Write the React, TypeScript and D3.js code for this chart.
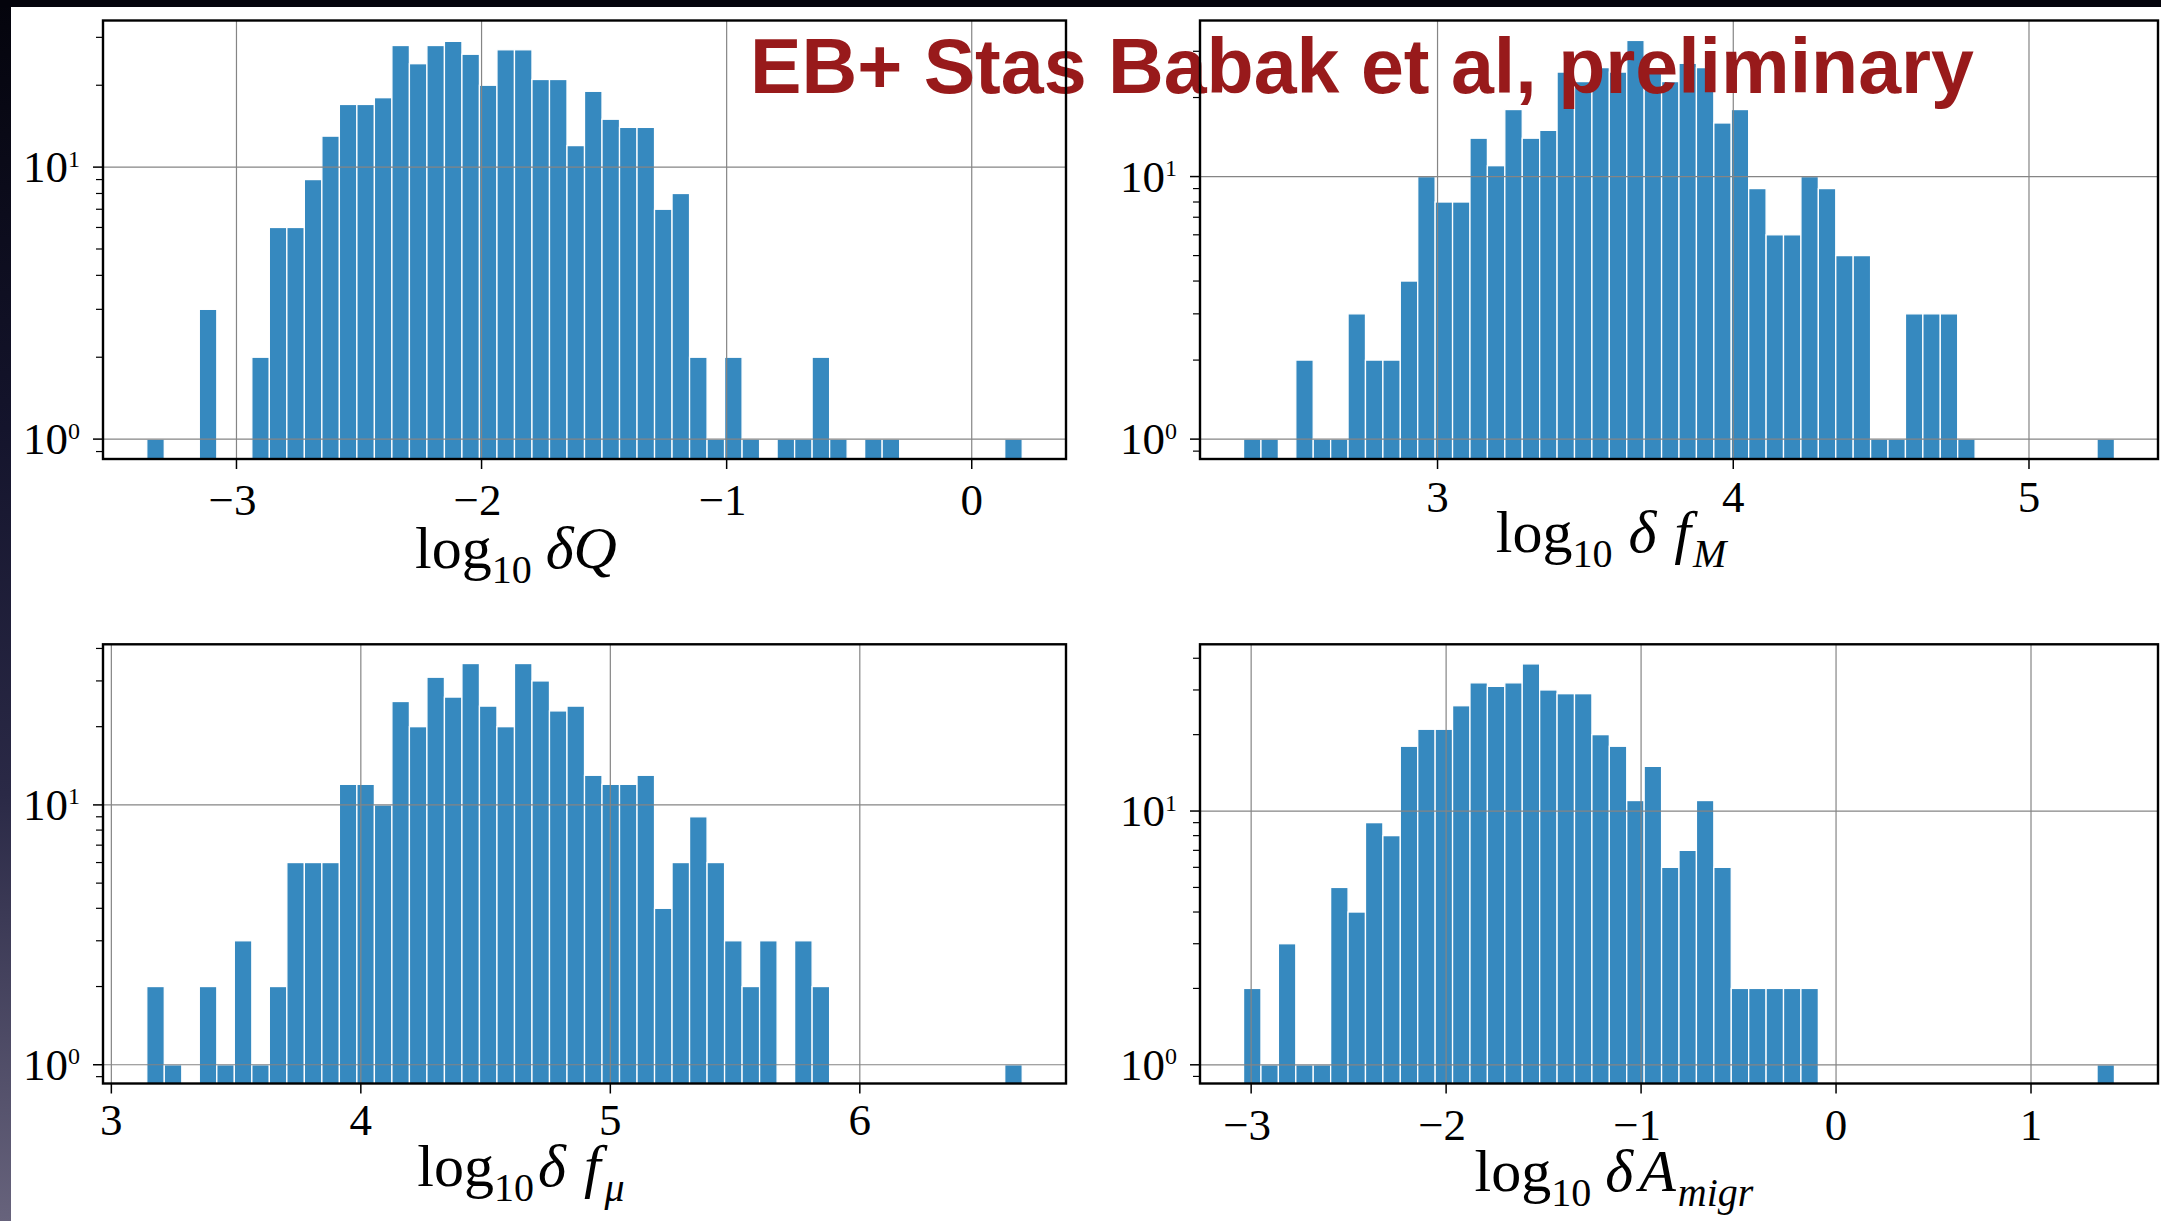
import React from 'react';
import * as d3 from 'd3';

const W = 2161;
const H = 1221;

// ---- data (histogram counts, 50 bins each) ----
const qCounts = [1,0,0,3,0,0,2,6,6,9,13,17,17,18,28,24,28,29,26,20,27,27,21,21,12,19,15,14,14,7,8,2,1,2,1,0,1,1,2,1,0,1,1,0,0,0,0,0,0,1];
const fmCounts = [1,1,0,2,1,1,3,2,2,4,10,8,8,14,11,18,14,15,25,23,26,25,33,26,23,27,26,16,18,9,6,6,10,9,5,5,1,1,3,3,3,1,0,0,0,0,0,0,0,1];
const fmuCounts = [2,1,0,2,1,3,1,2,6,6,6,12,12,10,25,20,31,26,35,24,20,35,30,23,24,13,12,12,13,4,6,9,6,3,2,3,0,3,2,0,0,0,0,0,0,0,0,0,0,1];
const aCounts = [2,1,3,1,1,5,4,9,8,18,21,21,26,32,31,32,38,30,29,29,20,18,11,15,6,7,11,6,2,2,2,2,2,0,0,0,0,0,0,0,0,0,0,0,0,0,0,0,0,1];

// bin ranges [first edge, last edge]
const qBins = [-3.366, 0.206];
const fmBins = [2.344, 5.289];
const fmuBins = [3.142, 6.651];
const aBins = [-3.039, 1.428];

// x tick values
const qTicks = [-3, -2, -1, 0];
const fmTicks = [3, 4, 5];
const fmuTicks = [3, 4, 5, 6];
const aTicks = [-3, -2, -1, 0, 1];

// y axis limits (log)
const qYLim = [0.845, 34.6];
const fmYLim = [0.84, 39.3];
const fmuYLim = [0.847, 41.5];
const aYLim = [0.844, 45.4];

const yMajor = [1, 10];

const title = 'EB+ Stas Babak et al, preliminary';

type Part = { t: string; it?: boolean; sub?: boolean; dx?: number };

const qLabel: Part[] = [{ t: 'log' }, { t: '10', sub: true }, { t: 'δQ', it: true, dx: 14 }];
const fmLabel: Part[] = [{ t: 'log' }, { t: '10', sub: true }, { t: 'δ', it: true, dx: 16 }, { t: 'f', it: true, dx: 18 }, { t: 'M', it: true, sub: true, dx: 2 }];
const fmuLabel: Part[] = [{ t: 'log' }, { t: '10', sub: true }, { t: 'δ', it: true, dx: 4 }, { t: 'f', it: true, dx: 18 }, { t: 'μ', it: true, sub: true, dx: 4 }];
const aLabel: Part[] = [{ t: 'log' }, { t: '10', sub: true }, { t: 'δ', it: true, dx: 14 }, { t: 'A', it: true, dx: 6 }, { t: 'migr', it: true, sub: true, dx: 2 }];

const BAR = '#3689bf';
const GRID = '#858585';
const SERIF = '"Liberation Serif", "DejaVu Serif", serif';

const panels = [
  { id: 'q', counts: qCounts, bins: qBins, xTicks: qTicks, yLim: qYLim, box: [103, 20.5, 1066, 459], label: qLabel, labelPos: [516, 568], tickBase: 515 },
  { id: 'fm', counts: fmCounts, bins: fmBins, xTicks: fmTicks, yLim: fmYLim, box: [1200, 20.5, 2158, 459], label: fmLabel, labelPos: [1611, 552], tickBase: 512 },
  { id: 'fmu', counts: fmuCounts, bins: fmuBins, xTicks: fmuTicks, yLim: fmuYLim, box: [103, 644.3, 1066, 1083.5], label: fmuLabel, labelPos: [521, 1186], tickBase: 1135 },
  { id: 'a', counts: aCounts, bins: aBins, xTicks: aTicks, yLim: aYLim, box: [1200, 644.3, 2158, 1083.5], label: aLabel, labelPos: [1614, 1191], tickBase: 1140 },
];

function minorTicks(lim: number[]) {
  const out: number[] = [];
  for (let e = -1; e <= 2; e++) {
    for (let m = 2; m <= 9; m++) {
      const v = m * Math.pow(10, e);
      if (v > lim[0] && v < lim[1]) out.push(v);
    }
  }
  return out;
}

function fmt(v: number) {
  return v < 0 ? '\u2212' + Math.abs(v) : String(v);
}

function AxisLabel({ parts, x, y }: { parts: Part[]; x: number; y: number }) {
  let cur = 0;
  const spans = parts.map((p, i) => {
    const target = p.sub ? 15 : 0;
    const dy = target - cur;
    cur = target;
    return (
      <tspan key={i} dy={dy} dx={p.dx || 0} fontStyle={p.it ? 'italic' : 'normal'} fontSize={p.sub ? 40 : 60}>
        {p.t}
      </tspan>
    );
  });
  return (
    <text x={x} y={y} textAnchor="middle" fontFamily={SERIF} fontSize={60} fill="#000">
      {spans}
    </text>
  );
}

function Panel({ p }: { p: (typeof panels)[number] }) {
  const [x0, y0, x1, y1] = p.box;
  const lo = p.bins[0];
  const hi = p.bins[1];
  const span = hi - lo;
  const xs = d3.scaleLinear().domain([lo - 0.05 * span, hi + 0.05 * span]).range([x0, x1]);
  const ys = d3.scaleLog().domain(p.yLim).range([y1, y0]);
  const n = p.counts.length;
  const bw = span / n;
  const minors = minorTicks(p.yLim);
  return (
    <g>
      <defs>
        <clipPath id={'clip-' + p.id}>
          <rect x={x0} y={y0} width={x1 - x0} height={y1 - y0} />
        </clipPath>
      </defs>
      <rect x={x0} y={y0} width={x1 - x0} height={y1 - y0} fill="#fff" />
      <g clipPath={`url(#clip-${p.id})`}>
        {p.counts.map((c, i) =>
          c > 0 ? (
            <rect
              key={i}
              x={xs(lo + i * bw)}
              y={ys(c)}
              width={xs(lo + (i + 1) * bw) - xs(lo + i * bw)}
              height={y1 + 5 - ys(c)}
              fill={BAR}
              stroke="#fff"
              strokeWidth={1.3}
            />
          ) : null
        )}
        {p.xTicks.map((t) => (
          <line key={'gx' + t} x1={xs(t)} x2={xs(t)} y1={y0} y2={y1} stroke={GRID} strokeWidth={1.2} />
        ))}
        {yMajor.map((t) => (
          <line key={'gy' + t} x1={x0} x2={x1} y1={ys(t)} y2={ys(t)} stroke={GRID} strokeWidth={1.2} />
        ))}
      </g>
      {/* x ticks */}
      {p.xTicks.map((t) => (
        <g key={'xt' + t}>
          <line x1={xs(t)} x2={xs(t)} y1={y1} y2={y1 + 10} stroke="#000" strokeWidth={1.5} />
          <text x={xs(t) - (t < 0 ? 4 : 0)} y={p.tickBase} textAnchor="middle" fontFamily={SERIF} fontSize={45} fill="#000">
            {fmt(t)}
          </text>
        </g>
      ))}
      {/* y ticks */}
      {yMajor.map((t, k) => (
        <g key={'yt' + t}>
          <line x1={x0 - 10} x2={x0} y1={ys(t)} y2={ys(t)} stroke="#000" strokeWidth={1.5} />
          <text x={x0 - 23} y={ys(t) + 15} textAnchor="end" fontFamily={SERIF} fontSize={45} fill="#000">
            10
            <tspan fontSize={24} dy={-15.5}>
              {String(k)}
            </tspan>
          </text>
        </g>
      ))}
      {minors.map((t) => (
        <line key={'ym' + t} x1={x0 - 7} x2={x0} y1={ys(t)} y2={ys(t)} stroke="#000" strokeWidth={1.2} />
      ))}
      <AxisLabel parts={p.label} x={p.labelPos[0]} y={p.labelPos[1]} />
    </g>
  );
}

function Spines({ p }: { p: (typeof panels)[number] }) {
  const [x0, y0, x1, y1] = p.box;
  return <rect x={x0} y={y0} width={x1 - x0} height={y1 - y0} fill="none" stroke="#000" strokeWidth={2.4} />;
}

export default function App() {
  return (
    <svg
      width={W}
      height={H}
      viewBox={`0 0 ${W} ${H}`}
      style={{ position: 'absolute', left: 0, top: 0, display: 'block' }}
    >
      <defs>
        <linearGradient id="leftStrip" x1="0" y1="0" x2="0" y2="1">
          <stop offset="0%" stopColor="#04040c" />
          <stop offset="35%" stopColor="#14142c" />
          <stop offset="65%" stopColor="#2a2946" />
          <stop offset="100%" stopColor="#67637c" />
        </linearGradient>
      </defs>
      <rect x={0} y={0} width={W} height={H} fill="#fff" />
      <rect x={0} y={0} width={11} height={H} fill="url(#leftStrip)" />
      <rect x={0} y={0} width={W} height={7} fill="#04040c" />
      {panels.map((p) => (
        <Panel key={p.id} p={p} />
      ))}
      <text
        x={750}
        y={93}
        fontFamily='"Liberation Sans", Arial, sans-serif'
        fontWeight="bold"
        fontSize={78}
        fill="#981a1b"
        textLength={1224}
        lengthAdjust="spacingAndGlyphs"
      >
        {title}
      </text>
      {panels.map((p) => (
        <Spines key={'s' + p.id} p={p} />
      ))}
    </svg>
  );
}
